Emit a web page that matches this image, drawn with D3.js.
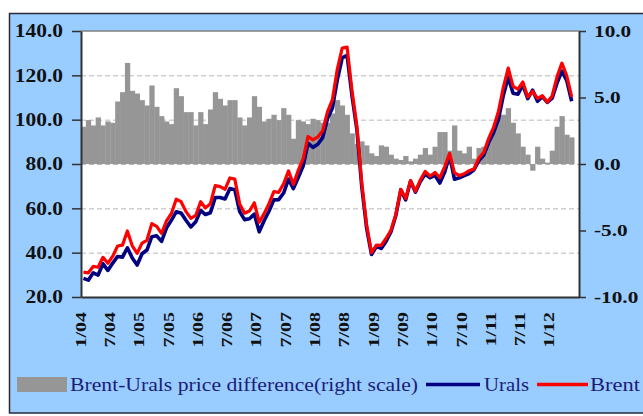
<!DOCTYPE html>
<html><head><meta charset="utf-8">
<script src="https://cdn.jsdelivr.net/npm/d3@7"></script>
<style>html,body{margin:0;padding:0;background:#fff;} svg{display:block}</style>
</head><body>
<svg id="chart" width="643" height="416"></svg>
<script>
// Monthly data, Jan 2004 – May 2012 (USD/bbl)
const brent = [
  31.2, 30.9, 33.8, 33.4, 37.9, 35.2, 38.4, 43.0, 43.4, 49.8, 43.1, 39.7,
  44.3, 45.6, 53.1, 51.9, 48.7, 54.3, 57.6, 64.1, 63.0, 58.5, 55.5, 56.8,
  63.0, 60.2, 62.1, 70.3, 69.8, 68.6, 73.7, 73.2, 62.0, 57.8, 58.8, 62.5,
  53.7, 57.6, 62.1, 67.5, 67.2, 71.1, 76.9, 70.8, 77.2, 82.3, 92.4, 90.9,
  92.2, 95.0, 103.6, 109.1, 122.8, 132.3, 132.7, 113.2, 97.2, 71.6, 52.5, 40.0,
  43.4, 43.3, 46.5, 50.2, 57.3, 68.6, 64.4, 72.5, 67.7, 72.8, 76.7, 74.5,
  76.2, 73.8, 78.8, 84.8, 76.0, 74.8, 75.6, 77.0, 77.8, 82.7, 85.3, 91.5,
  96.5, 103.7, 114.6, 123.3, 115.0, 113.8, 117.0, 110.2, 112.8, 109.6, 110.8, 107.9,
  110.7, 119.3, 125.5, 119.8, 110.3
];
const urals = [
  28.4, 27.6, 30.9, 29.9, 35.0, 32.0, 35.3, 38.3, 38.0, 42.2, 37.6, 34.4,
  39.5, 41.2, 47.2, 47.6, 45.1, 51.1, 54.6, 58.4, 57.9, 54.6, 51.6, 53.9,
  59.1, 57.2, 58.0, 64.9, 64.9, 64.2, 68.9, 68.4, 58.5, 54.9, 55.3, 57.4,
  49.4, 54.4, 58.7, 63.8, 63.9, 66.9, 73.2, 68.9, 73.9, 79.1, 89.4, 87.5,
  88.9, 91.9, 100.5, 105.3, 118.0, 127.9, 129.0, 110.9, 95.7, 69.9, 51.1, 39.2,
  42.8, 41.9, 45.2, 49.5, 56.9, 68.3, 63.8, 72.3, 67.3, 72.1, 75.5, 73.8,
  74.9, 71.4, 76.4, 83.8, 73.1, 73.8, 74.8, 75.7, 77.4, 81.5, 84.0, 89.7,
  94.1, 100.1, 110.9, 119.1, 111.9, 111.5, 115.7, 109.5, 113.3, 108.3, 110.4, 107.8,
  109.7, 116.5, 121.9, 117.6, 108.3
];
const diff = [
  2.8, 3.3, 2.9, 3.5, 2.9, 3.2, 3.1, 4.7, 5.4, 7.6, 5.5, 5.3,
  4.8, 4.4, 5.9, 4.3, 3.6, 3.2, 3.0, 5.7, 5.1, 3.9, 3.9, 2.9,
  3.9, 3.0, 4.1, 5.4, 4.9, 4.4, 4.8, 4.8, 3.5, 2.9, 3.5, 5.1,
  4.3, 3.2, 3.4, 3.7, 3.3, 4.2, 3.7, 1.9, 3.3, 3.2, 3.0, 3.4,
  3.3, 3.1, 3.1, 3.8, 4.8, 4.4, 3.7, 2.3, 1.5, 1.7, 1.4, 0.8,
  0.6, 1.4, 1.3, 0.7, 0.4, 0.3, 0.6, 0.2, 0.4, 0.7, 1.2, 0.7,
  1.3, 2.4, 2.4, 1.0, 2.9, 1.0, 0.8, 1.3, 0.4, 1.2, 1.3, 1.8,
  2.4, 3.6, 3.7, 4.2, 3.1, 2.3, 1.3, 0.7, -0.5, 1.3, 0.4, 0.1,
  1.0, 2.8, 3.6, 2.2, 2.0
];
const xTickLabels = ["1/04","7/04","1/05","7/05","1/06","7/06","1/07","7/07","1/08",
                     "7/08","1/09","7/09","1/10","7/10","1/11","7/11","1/12"];
const leftTicks = [20, 40, 60, 80, 100, 120, 140];
const rightTicks = [-10, -5, 0, 5, 10];
const legendLabels = ["Brent-Urals price difference(right scale)", "Urals", "Brent"];

// categories: months Jan 2004 .. Jun 2012
const months = d3.timeMonth.range(new Date(2004, 0, 1), new Date(2012, 6, 1));
const categories = months.map(d => (d.getMonth() + 1) + "/" + String(d.getFullYear() % 100).padStart(2, "0"));

const svg = d3.select("#chart");
const L = 81, R = 579, T = 31, B = 297;
const serif = "'Liberation Serif','Times New Roman',serif";

const x = d3.scaleBand().domain(categories).range([L, R]).padding(0);
const bw = x.bandwidth();
const yL = d3.scaleLinear().domain([20, 140]).range([B, T]);
const yR = d3.scaleLinear().domain([-10, 10]).range([B, T]);

// outer frame
svg.append("rect").attr("x", 9.5).attr("y", 13.5).attr("width", 700).attr("height", 399.5)
  .attr("fill", "#99CCFF").attr("stroke", "#2a2a3a").attr("stroke-width", 1.5);

// plot area
svg.append("rect").attr("x", L).attr("y", T).attr("width", R - L).attr("height", B - T).attr("fill", "#fff");

// gridlines
svg.append("g").selectAll("line").data(leftTicks.filter(t => t !== 20 && t !== 140)).join("line")
  .attr("x1", L).attr("x2", R).attr("y1", d => yL(d) + 0.5).attr("y2", d => yL(d) + 0.5)
  .attr("stroke", "#b8b8b8").attr("stroke-width", 1).attr("stroke-dasharray", "5,3");

// bars (right scale)
svg.append("g").selectAll("rect").data(diff).join("rect")
  .attr("x", (d, i) => x(categories[i]))
  .attr("width", bw + 0.4)
  .attr("y", d => Math.min(yR(d), yR(0)))
  .attr("height", d => Math.abs(yR(d) - yR(0)))
  .attr("fill", "#969696");

// lines
const line = d3.line().x((d, i) => x(categories[i]) + bw / 2).y(d => yL(d));
svg.append("path").datum(urals).attr("d", line).attr("fill", "none")
  .attr("stroke", "#000080").attr("stroke-width", 3.6).attr("stroke-linejoin", "round");
svg.append("path").datum(brent).attr("d", line).attr("fill", "none")
  .attr("stroke", "#FF0000").attr("stroke-width", 3.2).attr("stroke-linejoin", "round");

// plot border top
svg.append("line").attr("x1", L).attr("x2", R).attr("y1", T).attr("y2", T)
  .attr("stroke", "#808080").attr("stroke-width", 1.5);

function stretch(sel, k) {
  sel.each(function () {
    const w = this.getComputedTextLength();
    d3.select(this).attr("textLength", w * k).attr("lengthAdjust", "spacingAndGlyphs");
  });
}

// left axis
const gL = svg.append("g").attr("transform", `translate(${L},0)`)
  .call(d3.axisLeft(yL).tickValues(leftTicks).tickFormat(d => d.toFixed(1)).tickSize(9).tickPadding(9).tickSizeOuter(0));
gL.select(".domain").attr("stroke", "#333").attr("stroke-width", 2);
gL.selectAll(".tick line").attr("stroke", "#333").attr("stroke-width", 1.5);
gL.selectAll("text").attr("font-family", serif).attr("font-size", 18).attr("font-weight", "bold").attr("fill", "#111");
stretch(gL.selectAll("text"), 1.19);

// right axis
const gR = svg.append("g").attr("transform", `translate(${R},0)`)
  .call(d3.axisRight(yR).tickValues(rightTicks).tickFormat(d => d.toFixed(1)).tickSize(7).tickPadding(8).tickSizeOuter(0));
gR.select(".domain").attr("stroke", "#333").attr("stroke-width", 2);
gR.selectAll(".tick line").attr("stroke", "#333").attr("stroke-width", 1.5);
gR.selectAll("text").attr("font-family", serif).attr("font-size", 17).attr("font-weight", "bold").attr("fill", "#111");
stretch(gR.selectAll("text"), 1.25);

// bottom axis
const gB = svg.append("g").attr("transform", `translate(0,${B})`)
  .call(d3.axisBottom(x).tickValues(xTickLabels).tickSize(0).tickSizeOuter(0));
gB.select(".domain").attr("stroke", "#333").attr("stroke-width", 2);
gB.selectAll("text")
  .attr("font-family", serif).attr("font-size", 15).attr("font-weight", "bold").attr("fill", "#111")
  .attr("transform", "rotate(-90)").attr("text-anchor", "end")
  .attr("x", -15).attr("y", -3).attr("dy", "0.35em");
stretch(gB.selectAll("text"), 1.33);

// legend
const lg = svg.append("g");
const navy = "#1c1c78";
lg.append("rect").attr("x", 17).attr("y", 377).attr("width", 50).attr("height", 15).attr("fill", "#969696");
const t1 = lg.append("text").attr("x", 70).attr("y", 391).text(legendLabels[0]);
lg.append("line").attr("x1", 426).attr("x2", 480).attr("y1", 384.5).attr("y2", 384.5).attr("stroke", "#000080").attr("stroke-width", 3.6);
const t2 = lg.append("text").attr("x", 484).attr("y", 391).text(legendLabels[1]);
lg.append("line").attr("x1", 537).attr("x2", 588).attr("y1", 384.5).attr("y2", 384.5).attr("stroke", "#FF0000").attr("stroke-width", 3.6);
const t3 = lg.append("text").attr("x", 590).attr("y", 391).text(legendLabels[2]);
lg.selectAll("text").attr("font-family", serif).attr("font-size", 18).attr("fill", navy);
t1.attr("textLength", 348).attr("lengthAdjust", "spacingAndGlyphs");
t2.attr("textLength", 45).attr("lengthAdjust", "spacingAndGlyphs");
t3.attr("textLength", 50).attr("lengthAdjust", "spacingAndGlyphs");
</script>
</body></html>
